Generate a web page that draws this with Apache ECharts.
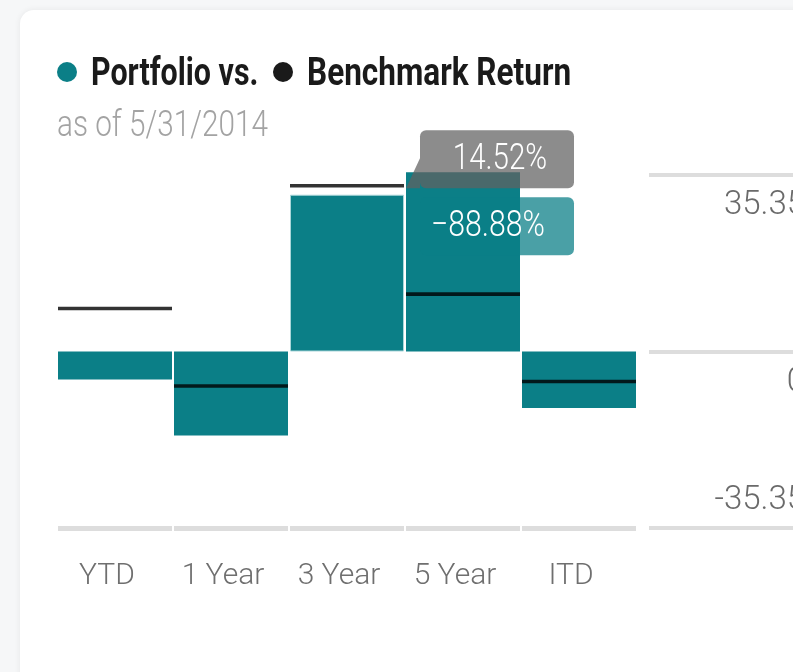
<!DOCTYPE html>
<html>
<head>
<meta charset="utf-8">
<script src="https://cdn.jsdelivr.net/npm/echarts@6/dist/echarts.min.js"></script>
<style>
  html, body { margin: 0; padding: 0; background: #f6f7f8; overflow: hidden; }
  .card {
    position: absolute; left: 20px; top: 10px; width: 840px; height: 680px;
    background: #ffffff; border-radius: 14px;
    box-shadow: 0 0 6px rgba(0, 0, 0, 0.07);
  }
  #chart { position: absolute; left: 0; top: 0; width: 793px; height: 672px; }
</style>
</head>
<body>
<div class="card"></div>
<div id="chart"></div>
<script>
// periods and returns (%)
const periods = ["YTD", "1 Year", "3 Year", "5 Year", "ITD"];
const portfolioReturns = [-5.6, -16.8, 31.4, 35.9, -11.3];
const benchmarkReturns = [8.6, -6.9, 33.2, 11.5, -6.0];
const axisTicks = [-35.35, 0, 35.35];
const tipBenchmark = "14.52%";
const tipPortfolio = "\u221288.88%";
const tipIndex = 3;

const TEAL = "#0b7f87";
const FONT = "Roboto, 'Noto Sans', sans-serif";
const yMin = axisTicks[0];
const yMax = axisTicks[axisTicks.length - 1];

const chart = echarts.init(document.getElementById("chart"), null, { renderer: "canvas" });

chart.setOption({
  animation: false,
  grid: [
    { left: 57, width: 580, top: 175, bottom: 144, outerBoundsMode: "none" },
    { left: 649, width: 156, top: 175, bottom: 144, outerBoundsMode: "none" },
  ],
  xAxis: [
    {
      type: "category",
      gridIndex: 0,
      data: periods,
      axisLine: { show: false },
      axisTick: { show: false },
      axisLabel: {
        interval: 0,
        color: "#6f6f6f",
        fontFamily: FONT,
        fontWeight: 300,
        fontSize: 30,
        margin: 33,
        padding: [0, 16, 0, 0],
      },
    },
    { type: "value", gridIndex: 1, min: 0, max: 1, show: false },
  ],
  yAxis: [
    { type: "value", gridIndex: 0, min: yMin, max: yMax, show: false },
    {
      type: "value",
      gridIndex: 1,
      position: "right",
      min: yMin,
      max: yMax,
      interval: yMax,
      axisLine: { show: false },
      axisTick: { show: false },
      splitLine: { lineStyle: { color: "#dddddd", width: 4 } },
      axisLabel: {
        inside: true,
        margin: 0,
        formatter: (v) => {
          const txt = v === 0 ? "0" : String(v);
          return v < 0 ? "{up|" + txt + "}" : "{down|" + txt + "}";
        },
        rich: {
          down: { color: "#6a6a6a", fontFamily: FONT, fontWeight: 300, fontSize: 33, lineHeight: 38, padding: [62, 0, 0, 0] },
          up: { color: "#6a6a6a", fontFamily: FONT, fontWeight: 300, fontSize: 33, lineHeight: 38, padding: [0, 0, 54, 0] },
        },
      },
    },
  ],
  series: [
    {
      name: "baseline",
      type: "custom",
      xAxisIndex: 0,
      yAxisIndex: 0,
      silent: true,
      clip: false,
      data: periods.map((p, i) => [i, yMin]),
      renderItem: (params, api) => {
        const pt = api.coord([api.value(0), api.value(1)]);
        const w = api.size([1, 0])[0];
        return {
          type: "rect",
          shape: { x: pt[0] - w / 2 + 1, y: pt[1] - 2, width: w - 2, height: 5 },
          style: { fill: "#dddddd" },
        };
      },
    },
    {
      name: "Portfolio vs.",
      type: "bar",
      xAxisIndex: 0,
      yAxisIndex: 0,
      clip: false,
      barWidth: 114,
      itemStyle: { color: TEAL },
      data: portfolioReturns.map((v, i) =>
        i === 2
          ? { value: v, itemStyle: { borderColor: "#a9d6d9", borderWidth: 1 } }
          : v
      ),
    },
    {
      name: "Benchmark Return",
      type: "scatter",
      xAxisIndex: 0,
      yAxisIndex: 0,
      clip: false,
      symbol: "rect",
      symbolSize: [114, 3.6],
      itemStyle: { color: "#000000" },
      z: 5,
      data: benchmarkReturns,
    },
  ],
});

// title, subtitle and the pinned tooltip for the 5 Year column
const tipCenter = chart.convertToPixel({ xAxisIndex: 0 }, tipIndex);
const tipTop = chart.convertToPixel({ yAxisIndex: 0 }, portfolioReturns[tipIndex]);
const ax = tipCenter - 57;
const ay = tipTop;

function label(x, y, text, font, fill, sx, align) {
  return {
    type: "text", x: x, y: y, scaleX: sx, z: 100,
    style: { x: 0, y: 0, text: text, font: font, fill: fill, align: align || "left", verticalAlign: "middle" },
  };
}

chart.setOption({
  graphic: [
    { type: "circle", z: 100, shape: { cx: 67, cy: 72, r: 10 }, style: { fill: TEAL } },
    label(91, 75, "Portfolio vs.", "bold 38px " + FONT, "#1a1a1a", 0.8),
    { type: "circle", z: 100, shape: { cx: 283, cy: 72, r: 10 }, style: { fill: "#1a1a1a" } },
    label(307, 75, "Benchmark Return", "bold 38px " + FONT, "#1a1a1a", 0.83),
    label(57, 127, "as of 5/31/2014", "300 36px " + FONT, "#a3a3a3", 0.825),
    {
      type: "rect", z: 100,
      shape: { x: ax + 14, y: ay - 42, width: 154, height: 58, r: 6 },
      style: { fill: "rgba(97,97,97,0.73)" },
    },
    {
      type: "polygon", z: 100,
      shape: { points: [[ax + 14, ay - 14], [ax, ay + 16], [ax + 14, ay + 16]] },
      style: { fill: "rgba(97,97,97,0.73)" },
    },
    label(ax + 94, ay - 12, tipBenchmark, "300 36px " + FONT, "#ffffff", 0.82, "center"),
    {
      type: "rect", z: 100,
      shape: { x: ax + 14, y: ay + 25, width: 154, height: 58, r: 6 },
      style: { fill: "rgba(11,127,135,0.74)" },
    },
    label(ax + 82, ay + 55, tipPortfolio, "300 36px " + FONT, "#ffffff", 0.84, "center"),
  ],
});
</script>
</body>
</html>
